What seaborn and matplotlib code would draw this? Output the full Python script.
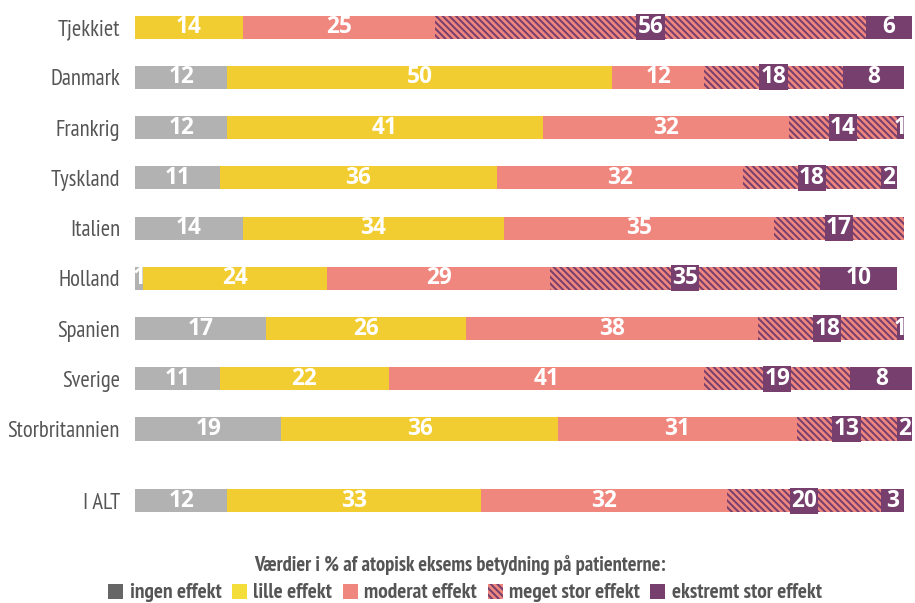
import matplotlib
matplotlib.use("Agg")
import matplotlib.pyplot as plt
from matplotlib.patches import Patch
import numpy as np
import pandas as pd
import seaborn as sns

# Countries and their percentages for each level of impact
countries = ["Tjekkiet", "Danmark", "Frankrig", "Tyskland", "Italien",
             "Holland", "Spanien", "Sverige", "Storbritannien", "I ALT"]
positions = [0, 1, 2, 3, 4, 5, 6, 7, 8, 9.43]

ingen = [0, 12, 12, 11, 14, 1, 17, 11, 19, 12]
lille = [14, 50, 41, 36, 34, 24, 26, 22, 36, 33]
moderat = [25, 12, 32, 32, 35, 29, 38, 41, 31, 32]
meget = [56, 18, 14, 18, 17, 35, 18, 19, 13, 20]
ekstremt = [6, 8, 1, 2, 0, 10, 1, 8, 2, 3]

segment_names = ["ingen effekt", "lille effekt", "moderat effekt",
                 "meget stor effekt", "ekstremt stor effekt"]
legend_title = "Værdier i % af atopisk eksems betydning på patienterne:"

GRAY = "#b2b2b2"
YELLOW = "#f2cd32"
SALMON = "#f0877e"
PURPLE = "#773f6e"
TEXT = "#555555"
colors = [GRAY, YELLOW, SALMON, SALMON, PURPLE]
HATCH = "\\" * 6

sns.set_theme(style="white")
FONT = ["PT Sans Narrow", "Fira Sans Condensed", "DejaVu Sans"]
NUM_FONT = ["Open Sans", "DejaVu Sans"]
plt.rcParams["font.family"] = FONT
plt.rcParams["hatch.linewidth"] = 1.2

values = np.array([ingen, lille, moderat, meget, ekstremt], dtype=float)
cum_end = values.cumsum(axis=0)
cum_start = cum_end - values

df = pd.DataFrame({"country": countries, "pos": positions})
for i, name in enumerate(segment_names):
    df[name] = values[i]
    df[name + "_end"] = cum_end[i]

DPI = 120
fig = plt.figure(figsize=(915 / DPI, 603 / DPI), dpi=DPI)
ax = fig.add_axes([135 / 915, 1 - 526 / 603, (912 - 135) / 915, (526 - 2) / 603])

# Stacked bars: draw cumulative totals from the last segment backwards
for i in range(len(segment_names) - 1, -1, -1):
    name = segment_names[i]
    n_before = len(ax.patches)
    sns.barplot(data=df, x=name + "_end", y="pos", orient="y", native_scale=True,
                color=colors[i], width=0.46, errorbar=None, saturation=1,
                linewidth=0, ax=ax)
    if i == 3:
        for p in ax.patches[n_before:]:
            p.set_facecolor(SALMON)
            p.set_edgecolor(PURPLE)
            p.set_linewidth(0)
            p.set_hatch(HATCH)

# Value labels centred in each segment
for r, pos in enumerate(positions):
    for i in range(len(segment_names)):
        v = values[i, r]
        if v <= 0:
            continue
        xc = cum_start[i, r] + v / 2
        kw = {}
        if i == 3:
            kw["bbox"] = dict(boxstyle="square,pad=0.05", fc=PURPLE, ec="none")
        ax.text(xc, pos, f"{int(v)}", ha="center", va="center", color="white",
                fontsize=13.6, fontweight="bold", family=NUM_FONT, **kw)

ax.set_xlim(0, 101)
ax.set_ylim(9.43 + 0.5, -0.5)
ax.set_yticks(positions)
ax.set_yticklabels(countries, fontsize=13.5, color=TEXT)
ax.set_xticks([])
ax.set_xlabel("")
ax.set_ylabel("")
ax.tick_params(axis="y", length=0, pad=9)
for s in ax.spines.values():
    s.set_visible(False)
ax.grid(False)

fig.text(460 / 915, 1 - 565 / 603, legend_title, ha="center", va="center",
         fontsize=12.3, fontweight="bold", color=TEXT)

handles = [
    Patch(facecolor="#666666", edgecolor="none"),
    Patch(facecolor="#f4df3a", edgecolor="none"),
    Patch(facecolor=SALMON, edgecolor="none"),
    Patch(facecolor=SALMON, edgecolor=PURPLE, linewidth=0, hatch=HATCH),
    Patch(facecolor=PURPLE, edgecolor="none"),
]
leg = fig.legend(handles, segment_names, loc="center", ncol=5,
                 bbox_to_anchor=(465 / 915, 1 - 593 / 603), frameon=False,
                 handlelength=0.7, handleheight=0.7, handletextpad=0.3,
                 columnspacing=0.5, borderaxespad=0,
                 prop=dict(size=12.8, weight="bold", family=FONT))
for t in leg.get_texts():
    t.set_color(TEXT)

fig.savefig("out.png", dpi=DPI)
